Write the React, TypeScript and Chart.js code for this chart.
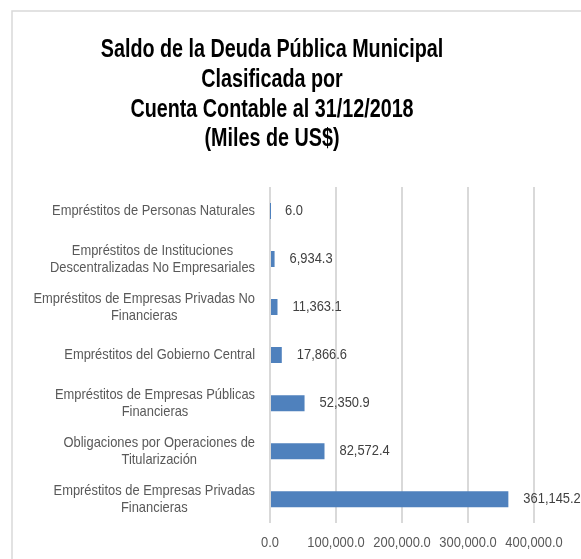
import React, { useEffect, useRef } from "react";
import { Chart, registerables } from "chart.js";

Chart.register(...registerables);

const titleLines = [
  "Saldo de la Deuda Pública Municipal",
  "Clasificada por",
  "Cuenta Contable al 31/12/2018",
  "(Miles de US$)",
];

const categories: string[][] = [
  ["Empréstitos de Personas Naturales"],
  ["Empréstitos de Instituciones", "Descentralizadas No Empresariales"],
  ["Empréstitos de Empresas Privadas No", "Financieras"],
  ["Empréstitos del Gobierno Central"],
  ["Empréstitos de Empresas Públicas", "Financieras"],
  ["Obligaciones por Operaciones de", "Titularización"],
  ["Empréstitos de Empresas Privadas", "Financieras"],
];

const values = [6.0, 6934.3, 11363.1, 17866.6, 52350.9, 82572.4, 361145.2];

const xTicks = [0, 100000, 200000, 300000, 400000];

const fmt = (v: number) =>
  v.toLocaleString("en-US", { minimumFractionDigits: 1, maximumFractionDigits: 1 });

const FAMILY = '"Liberation Sans", Arial, sans-serif';
const TEXT_SCALE = 0.86;
const TITLE_SCALE = 0.79;

function drawScaled(
  ctx: CanvasRenderingContext2D,
  text: string,
  x: number,
  y: number,
  sx: number,
  align: CanvasTextAlign
) {
  ctx.save();
  ctx.translate(x, y);
  ctx.scale(sx, 1);
  ctx.textAlign = align;
  ctx.textBaseline = "middle";
  ctx.fillText(text, 0, 0);
  ctx.restore();
}

const customPlugin = {
  id: "custom",
  beforeDraw(chart: any) {
    const ctx = chart.ctx as CanvasRenderingContext2D;
    ctx.save();
    ctx.strokeStyle = "#d9d9d9";
    ctx.lineWidth = 1.5;
    ctx.beginPath();
    ctx.moveTo(12, 559);
    ctx.lineTo(12, 11);
    ctx.lineTo(581, 11);
    ctx.stroke();
    ctx.restore();
  },
  afterDraw(chart: any) {
    const ctx = chart.ctx as CanvasRenderingContext2D;
    const xs = chart.scales.x;
    const ys = chart.scales.y;
    const area = chart.chartArea;
    ctx.save();
    // title
    ctx.fillStyle = "#000000";
    ctx.font = "bold 25px " + FAMILY;
    const titleY = [50.5, 80, 110, 139];
    titleLines.forEach((t, i) => drawScaled(ctx, t, 272, titleY[i], TITLE_SCALE, "center"));

    // y labels
    ctx.font = "15px " + FAMILY;
    ctx.fillStyle = "#595959";
    const lh = 17;
    categories.forEach((lines, i) => {
      const cy = ys.getPixelForValue(i);
      const w = Math.max(...lines.map((l) => ctx.measureText(l).width)) * TEXT_SCALE;
      const cx = 255 - w / 2;
      const y0 = cy - ((lines.length - 1) * lh) / 2;
      lines.forEach((l, j) => drawScaled(ctx, l, cx, y0 + j * lh, TEXT_SCALE, "center"));
    });

    // x tick labels
    xTicks.forEach((t) => {
      drawScaled(ctx, fmt(t), xs.getPixelForValue(t), area.bottom + 20, TEXT_SCALE, "center");
    });

    // data labels
    ctx.fillStyle = "#404040";
    values.forEach((v, i) => {
      const x = xs.getPixelForValue(v) + 15;
      const y = ys.getPixelForValue(i);
      drawScaled(ctx, fmt(v), x, y, TEXT_SCALE, "left");
    });
    ctx.restore();
  },
};

export default function App() {
  const ref = useRef<HTMLCanvasElement | null>(null);
  useEffect(() => {
    if (!ref.current) return;
    const chart = new Chart(ref.current, {
      type: "bar",
      data: {
        labels: categories.map((c) => c.join(" ")),
        datasets: [
          {
            data: values,
            backgroundColor: "#4f81bd",
            borderWidth: 0,
            inflateAmount: 0,
            barThickness: 16,
          },
        ],
      },
      options: {
        indexAxis: "y",
        animation: false,
        responsive: false,
        layout: { padding: { left: 270, right: 47, top: 187, bottom: 19 } },
        plugins: { legend: { display: false }, title: { display: false }, tooltip: { enabled: false } },
        scales: {
          x: {
            min: 0,
            max: 400000,
            afterBuildTicks: (axis: any) => {
              axis.ticks = xTicks.map((v) => ({ value: v }));
            },
            grid: { color: "#d9d9d9", lineWidth: 2, drawTicks: false },
            border: { display: false },
            ticks: {
              padding: 0,
              color: "rgba(0,0,0,0)",
              maxRotation: 0,
              minRotation: 0,
              autoSkip: false,
              font: { size: 14, family: FAMILY },
              callback: () => "0",
            },
          },
          y: {
            display: false,
          },
        },
      },
      plugins: [customPlugin],
    });
    return () => chart.destroy();
  }, []);
  return (
    <div style={{ position: "fixed", left: 0, top: 0, width: 581, height: 559, background: "#fff" }}>
      <canvas ref={ref} width={581} height={559} />
    </div>
  );
}
